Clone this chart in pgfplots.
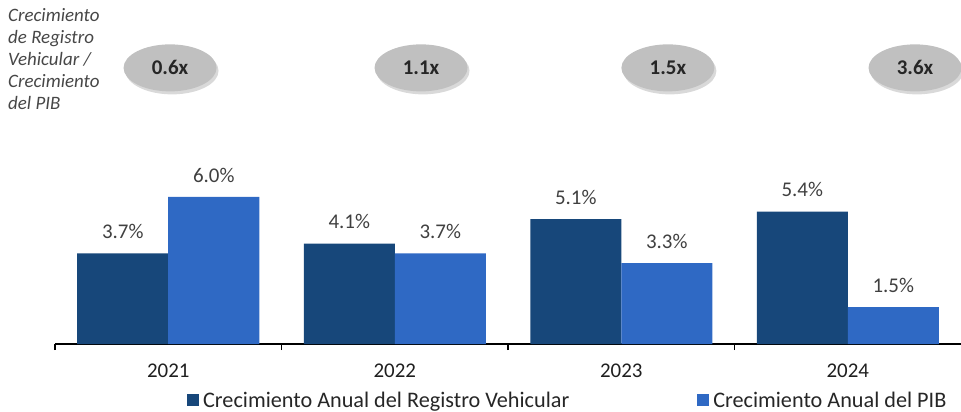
\documentclass[border=0pt]{standalone}
\usepackage{pgfplots}
\pgfplotsset{compat=1.18}
\usepackage{fontspec}
\setmainfont{Carlito}
\usetikzlibrary{shadows,shapes.geometric}
\definecolor{darkbar}{HTML}{17477A}
\definecolor{lightbar}{HTML}{2F69C4}
\definecolor{lbl}{HTML}{404040}
\definecolor{oval}{HTML}{C0C0C0}
\begin{document}
\begin{tikzpicture}
\begin{axis}[
  /pgf/number format/assume math mode=true,
  scale only axis, width=906bp, height=344bp,
  xmin=-0.5, xmax=3.5, ymin=0, ymax=14.04,
  ybar=0pt, bar width=91bp,
  axis x line*=bottom, axis y line=none,
  xtick={0,1,2,3}, xticklabels={2021,2022,2023,2024},
  major tick length=0pt,
  minor xtick={-0.5,0.5,1.5,2.5},
  minor tick length=6bp,
  tick align=outside,
  x axis line style={line width=1.6bp, black},
  every minor tick/.style={line width=1.2bp, black},
  xticklabel style={font=\fontsize{21}{24}\selectfont, text=black!88, yshift=-16bp},
  nodes near coords={\pgfmathprintnumber[fixed,fixed zerofill,precision=1]{\pgfplotspointmeta}\%},
  every node near coord/.append style={font=\fontsize{21}{24}\selectfont, text=lbl, yshift=11bp},
  legend style={at={(0.566,-0.163)}, anchor=center, draw=none, fill=none,
    legend columns=2, font=\fontsize{22.3}{24}\selectfont, text=black!85,
    /tikz/every odd column/.append style={column sep=2bp},
    /tikz/every even column/.append style={column sep=126bp}},
  legend image code/.code={\fill[#1] (0bp,-6bp) rectangle (12bp,6bp);},
  clip=false,
]
\addplot[fill=darkbar, draw=none] coordinates {(0,3.7) (1,4.1) (2,5.1) (3,5.4)};
\addlegendentry{Crecimiento Anual del Registro Vehicular}
\addplot[fill=lightbar, draw=none] coordinates {(0,6.0) (1,3.7) (2,3.3) (3,1.5)};
\addlegendentry{Crecimiento Anual del PIB}
\addplot[forget plot, draw=none, mark=none, ybar=0pt, fill=none,
  point meta=explicit symbolic,
  nodes near coords={\pgfplotspointmeta},
  every node near coord/.style={anchor=center, shape=ellipse, fill=oval, draw=none,
    drop shadow={opacity=0.3, shadow xshift=2bp, shadow yshift=-3bp},
    minimum width=93bp, minimum height=47bp, inner sep=0pt,
    font=\bfseries\fontsize{21}{24}\selectfont, text=black!85}]
  coordinates {(0.008,11.27)[0.6x] (1.116,11.27)[1.1x] (2.206,11.27)[1.5x] (3.297,11.27)[3.6x]};
\node[anchor=north west, align=left, text=black!72, inner sep=0pt,
  font=\itshape\fontsize{19}{22.3}\selectfont] at (axis cs:-0.7075,13.72)
  {Crecimiento\\de Registro\\Vehicular /\\Crecimiento\\del PIB};
\end{axis}
\pgfresetboundingbox
\path (-55bp,-68bp) rectangle (906bp,344bp);
\end{tikzpicture}
\end{document}
